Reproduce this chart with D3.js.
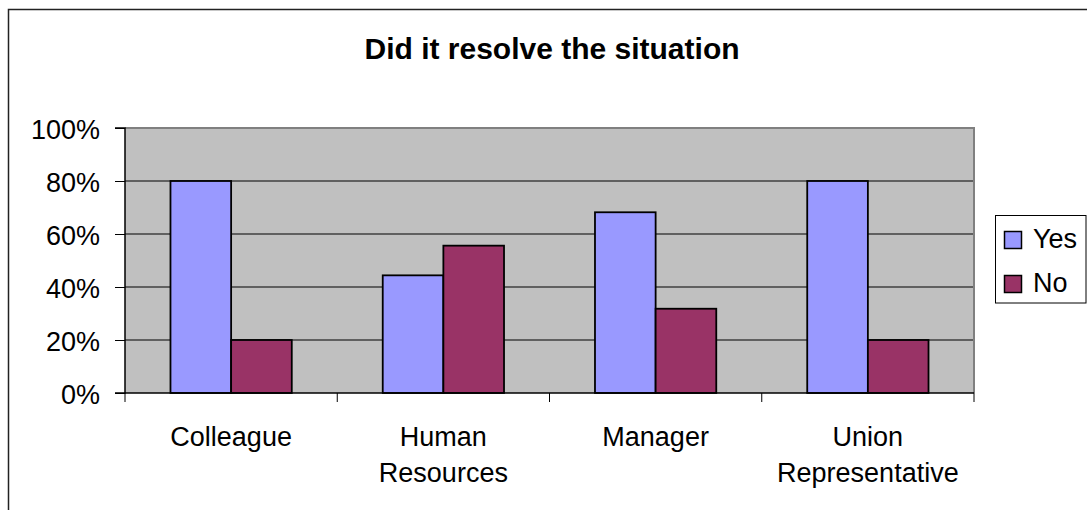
<!DOCTYPE html>
<html>
<head>
<meta charset="utf-8">
<script src="https://cdn.jsdelivr.net/npm/d3@7"></script>
<style>
  html, body { margin: 0; padding: 0; background: #fff; }
  svg { display: block; font-family: "Liberation Sans", Arial, sans-serif; }
</style>
</head>
<body>
<svg id="chart" width="1087" height="510"></svg>
<script>
// Survey responses: share of cases where the approach resolved the situation
const categories = [["Colleague"], ["Human", "Resources"], ["Manager"], ["Union", "Representative"]];
const seriesNames = ["Yes", "No"];
const yesValues = [80, 44.4, 68.2, 80];
const noValues = [20, 55.6, 31.8, 20];
const yTicks = [0, 20, 40, 60, 80, 100];
const colors = ["#9999FF", "#993366"];

const svg = d3.select("#chart");
const plot = { left: 125, top: 128, right: 974, bottom: 393 };

// outer chart frame (runs off the right and bottom edges)
svg.append("path")
  .attr("d", "M8.5,520 V9.5 H1100")
  .attr("fill", "none").attr("stroke", "#222").attr("stroke-width", 1.5);

svg.append("text")
  .attr("x", 552).attr("y", 59)
  .attr("text-anchor", "middle")
  .attr("font-weight", "bold").attr("font-size", 30)
  .text("Did it resolve the situation");

const keys = categories.map((c, i) => i);
const x = d3.scaleBand().domain(keys).range([plot.left, plot.right]).paddingInner(0).paddingOuter(0);
const inner = d3.scaleBand().domain(seriesNames).range([0, x.bandwidth()]).paddingInner(0).paddingOuter(0.75);
const y = d3.scaleLinear().domain([0, 100]).range([plot.bottom, plot.top]);

// plot background
svg.append("rect")
  .attr("x", plot.left).attr("y", plot.top)
  .attr("width", plot.right - plot.left).attr("height", plot.bottom - plot.top)
  .attr("fill", "#C0C0C0");

// gridlines
svg.append("g").selectAll("line").data(yTicks.filter(t => t > 0 && t < 100)).join("line")
  .attr("x1", plot.left).attr("x2", plot.right)
  .attr("y1", d => y(d)).attr("y2", d => y(d))
  .attr("stroke", "#000").attr("stroke-width", 1);

// plot border (top and right)
svg.append("path")
  .attr("d", `M${plot.left},${plot.top} H${plot.right} V${plot.bottom}`)
  .attr("fill", "none").attr("stroke", "#808080").attr("stroke-width", 2);

// bars
const rows = keys.map(i => ({ i, vals: [yesValues[i], noValues[i]] }));
const groups = svg.append("g").selectAll("g").data(rows).join("g")
  .attr("transform", d => `translate(${x(d.i)},0)`);
groups.selectAll("rect").data(d => d.vals.map((v, k) => ({ v, k }))).join("rect")
  .attr("x", d => inner(seriesNames[d.k]))
  .attr("width", inner.bandwidth())
  .attr("y", d => y(d.v))
  .attr("height", d => y(0) - y(d.v))
  .attr("fill", d => colors[d.k])
  .attr("stroke", "#000").attr("stroke-width", 1.8);

// y axis
const yAxis = d3.axisLeft(y).tickValues(yTicks).tickSize(10).tickFormat(d => d + "%");
const ya = svg.append("g").attr("transform", `translate(${plot.left},0)`).call(yAxis);
ya.select(".domain").attr("stroke", "#000").attr("stroke-width", 1.5).attr("d", `M-10,${plot.top}H0V${plot.bottom}H-10`);
ya.selectAll(".tick line").attr("stroke", "#000");
ya.selectAll(".tick text")
  .attr("font-size", 27).attr("font-family", "Liberation Sans, Arial, sans-serif")
  .attr("fill", "#000").attr("x", -25).attr("dy", "0.4em");

// x axis line and category dividers
svg.append("line")
  .attr("x1", plot.left).attr("x2", plot.right)
  .attr("y1", plot.bottom).attr("y2", plot.bottom)
  .attr("stroke", "#000").attr("stroke-width", 1.5);
svg.append("g").selectAll("line").data(d3.range(keys.length + 1)).join("line")
  .attr("x1", d => plot.left + d * x.bandwidth()).attr("x2", d => plot.left + d * x.bandwidth())
  .attr("y1", plot.bottom).attr("y2", plot.bottom + 9)
  .attr("stroke", "#000").attr("stroke-width", 1);

// category labels
const labels = svg.append("g").selectAll("text").data(rows).join("text")
  .attr("x", d => x(d.i) + x.bandwidth() / 2)
  .attr("y", 446)
  .attr("text-anchor", "middle").attr("font-size", 27).attr("fill", "#000");
labels.selectAll("tspan").data(d => categories[d.i]).join("tspan")
  .attr("x", function () { return d3.select(this.parentNode).attr("x"); })
  .attr("dy", (d, k) => k === 0 ? 0 : 36)
  .text(d => d);

// legend
const legend = svg.append("g");
legend.append("rect")
  .attr("x", 995.5).attr("y", 215.5).attr("width", 90.5).attr("height", 87.5)
  .attr("fill", "#fff").attr("stroke", "#000").attr("stroke-width", 1);
seriesNames.forEach((name, k) => {
  legend.append("rect")
    .attr("x", 1004.5).attr("y", 231.5 + k * 44).attr("width", 17).attr("height", 17)
    .attr("fill", colors[k]).attr("stroke", "#000").attr("stroke-width", 1.5);
  legend.append("text")
    .attr("x", 1033).attr("y", 248 + k * 44)
    .attr("font-size", 27).attr("fill", "#000").text(name);
});
</script>
</body>
</html>
